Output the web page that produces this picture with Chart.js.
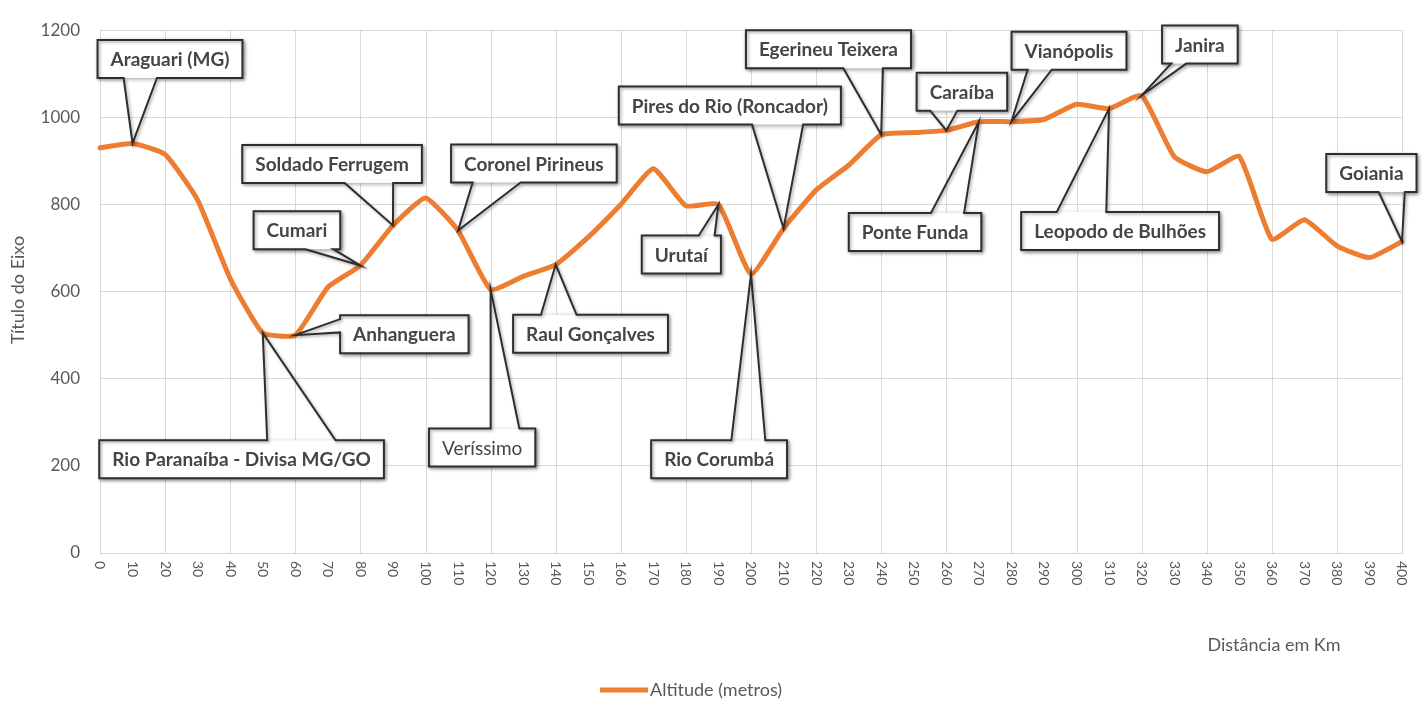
<!DOCTYPE html>
<html><head><meta charset="utf-8">
<script src="https://cdn.jsdelivr.net/npm/chart.js@4"></script>
<style>html,body{margin:0;padding:0;background:#fff;}#wrap{width:1423px;height:702px;position:relative;}canvas{display:block;}</style>
</head><body><div id="wrap"><canvas id="c" width="1423" height="702" style="width:1423px;height:702px"></canvas></div>
<script>
// ---- data ----
const distancesKm = [0,10,20,30,40,50,60,70,80,90,100,110,120,130,140,150,160,170,180,190,200,210,220,230,240,250,260,270,280,290,300,310,320,330,340,350,360,370,380,390,400];
const altitudeM = [930,940,915,810,630,505,500,610,660,752,815,740,605,635,662,725,800,882,797,800,640,745,833,890,960,965,970,990,990,995,1030,1020,1050,910,875,910,720,765,705,678,715];
const seriesName = 'Altitude (metros)';
const yTicks = [0,200,400,600,800,1000,1200];
const xAxisTitle = 'Distância em Km';
const yAxisTitle = 'Título do Eixo';
const calloutNames = ['Araguari (MG)','Soldado Ferrugem','Cumari','Coronel Pirineus','Anhanguera','Rio Paranaíba - Divisa MG/GO','Veríssimo','Raul Gonçalves','Urutaí','Rio Corumbá','Pires do Rio (Roncador)','Egerineu Teixera','Caraíba','Ponte Funda','Vianópolis','Janira','Leopodo de Bulhões','Goiania'];
const calloutKm = [10,90,80,110,60,50,120,140,190,200,210,240,260,270,280,320,310,400];

// ---- callout layout (box centre in km / m, pointer edge and base fractions) ----
const calloutLayout = [
  {bx:21.5, by:1134, edge:'bottom', f:[0.18,0.41]},
  {bx:71.3, by:893,  edge:'bottom', f:[0.57,0.84]},
  {bx:60.5, by:741,  edge:'bottom', f:[0.60,0.92]},
  {bx:133.3,by:894,  edge:'bottom', f:[0.13,0.42]},
  {bx:93.5, by:502,  edge:'left',   f:[0.10,0.45]},
  {bx:43.5, by:215,  edge:'top',    f:[0.59,0.83]},
  {bx:117.4,by:242,  edge:'top',    f:[0.58,0.85], normal:true},
  {bx:150.7,by:503,  edge:'top',    f:[0.18,0.41]},
  {bx:178.6,by:685,  edge:'top',    f:[0.72,0.92]},
  {bx:190.2,by:215,  edge:'top',    f:[0.59,0.84]},
  {bx:193.5,by:1027, edge:'bottom', f:[0.60,0.83]},
  {bx:223.8,by:1156, edge:'bottom', f:[0.59,0.83]},
  {bx:264.8,by:1059, edge:'bottom', f:[0.15,0.45]},
  {bx:250.4,by:737,  edge:'top',    f:[0.62,0.87]},
  {bx:297.7,by:1153, edge:'bottom', f:[0.14,0.35]},
  {bx:337.9,by:1167, edge:'bottom', f:[0.12,0.32]},
  {bx:313.4,by:739,  edge:'top',    f:[0.18,0.43]},
  {bx:390.6,by:872,  edge:'bottom', f:[0.58,0.87]}
];

const FONT = 'Lato, "Open Sans", sans-serif';
const GREY = '#595959';
const ORANGE = '#ED7D31';
const GRID = '#d9d9d9';

const decorPlugin = {
  id:'decor',
  beforeDatasetsDraw(chart){
    const {ctx, chartArea:a, scales:{x}} = chart;
    ctx.save();
    ctx.strokeStyle = GRID; ctx.lineWidth = 1;
    for(let i=0;i<distancesKm.length;i+=2){
      const px = Math.round(x.getPixelForValue(i))+0.5;
      ctx.beginPath(); ctx.moveTo(px,a.top); ctx.lineTo(px,a.bottom); ctx.stroke();
    }
    // x tick labels, rotated clockwise
    ctx.fillStyle = GREY; ctx.font = '14px ' + FONT;
    ctx.textAlign='left'; ctx.textBaseline='middle';
    distancesKm.forEach((d,i)=>{
      const px = x.getPixelForValue(i);
      ctx.save(); ctx.translate(px, a.bottom+8); ctx.rotate(Math.PI/2);
      ctx.fillText(String(d), 0, 0); ctx.restore();
    });
    ctx.restore();
  },
  afterDatasetsDraw(chart){
    const {ctx, scales:{x,y}} = chart;
    const x0 = x.getPixelForValue(0), x1 = x.getPixelForValue(distancesKm.length-1);
    const kmPx = km => x0 + (km - distancesKm[0])/(distancesKm[distancesKm.length-1]-distancesKm[0])*(x1-x0);
    ctx.save();
    calloutLayout.forEach((c,i)=>{
      const idx = distancesKm.indexOf(calloutKm[i]);
      const px = x.getPixelForValue(idx), py = y.getPixelForValue(altitudeM[idx]);
      const f = (c.normal?'':'bold ') + '19px ' + FONT;
      ctx.font = f;
      const tw = ctx.measureText(calloutNames[i]).width;
      const w = tw + 26, h = 38;
      const cx = kmPx(c.bx), cy = y.getPixelForValue(c.by);
      const l = cx - w/2, t = cy - h/2;
      const [f1,f2] = c.f;
      const path = new Path2D();
      path.moveTo(l,t);
      if(c.edge==='top'){ path.lineTo(l+f1*w,t); path.lineTo(px,py); path.lineTo(l+f2*w,t); }
      path.lineTo(l+w,t);
      path.lineTo(l+w,t+h);
      if(c.edge==='bottom'){ path.lineTo(l+f2*w,t+h); path.lineTo(px,py); path.lineTo(l+f1*w,t+h); }
      path.lineTo(l,t+h);
      if(c.edge==='left'){ path.lineTo(l,t+f2*h); path.lineTo(px,py); path.lineTo(l,t+f1*h); }
      path.closePath();
      ctx.save();
      ctx.shadowColor='rgba(0,0,0,0.45)'; ctx.shadowBlur=5; ctx.shadowOffsetX=1.5; ctx.shadowOffsetY=1.5;
      ctx.fillStyle='#fff';
      ctx.fillRect(l,t,w,h);
      ctx.shadowBlur=3; ctx.shadowColor='rgba(0,0,0,0.35)';
      ctx.strokeStyle='#2e2e2e'; ctx.lineWidth=2; ctx.lineJoin='miter';
      ctx.stroke(path);
      ctx.restore();
      ctx.fillStyle='#454545'; ctx.textAlign='center'; ctx.textBaseline='middle';
      ctx.font = f;
      ctx.fillText(calloutNames[i], cx, cy+1);
    });
    ctx.fillStyle = GREY;
    ctx.font = '18px ' + FONT;
    ctx.textAlign='center'; ctx.textBaseline='middle';
    ctx.fillText(xAxisTitle, 1274, 645);
    ctx.save();
    ctx.translate(18, 290); ctx.rotate(-Math.PI/2);
    ctx.fillText(yAxisTitle, 0, 0);
    ctx.restore();
    ctx.strokeStyle = ORANGE; ctx.lineWidth = 5; ctx.lineCap='butt';
    ctx.beginPath(); ctx.moveTo(600,690); ctx.lineTo(648,690); ctx.stroke();
    ctx.textAlign='left';
    ctx.fillText(seriesName, 650, 690);
    ctx.restore();
  }
};

new Chart(document.getElementById('c'), {
  type:'line',
  data:{
    labels: distancesKm.map(String),
    datasets:[{
      label: seriesName,
      data: altitudeM,
      borderColor: ORANGE,
      backgroundColor: ORANGE,
      borderWidth: 5,
      pointRadius: 0,
      tension: 0.15,
      borderJoinStyle:'round',
      borderCapStyle:'round',
      fill:false
    }]
  },
  options:{
    responsive:false,
    maintainAspectRatio:false,
    animation:false,
    devicePixelRatio:1,
    layout:{padding:{left:0,right:21,top:20,bottom:0}},
    plugins:{legend:{display:false}, tooltip:{enabled:false}},
    scales:{
      x:{
        type:'category',
        offset:false,
        grid:{display:false},
        border:{color:GRID},
        ticks:{display:false},
        afterFit:(s)=>{ s.height = 149; }
      },
      y:{
        min:0, max:1200,
        afterBuildTicks:(s)=>{ s.ticks = yTicks.map(v=>({value:v})); },
        grid:{color:GRID, drawTicks:false, lineWidth:1},
        border:{display:false},
        ticks:{padding:20, color:GREY, font:{family:FONT, size:17}, callback:(v)=>String(v)},
        afterFit:(s)=>{ s.width = 100; }
      }
    }
  },
  plugins:[decorPlugin]
});
</script></body></html>
